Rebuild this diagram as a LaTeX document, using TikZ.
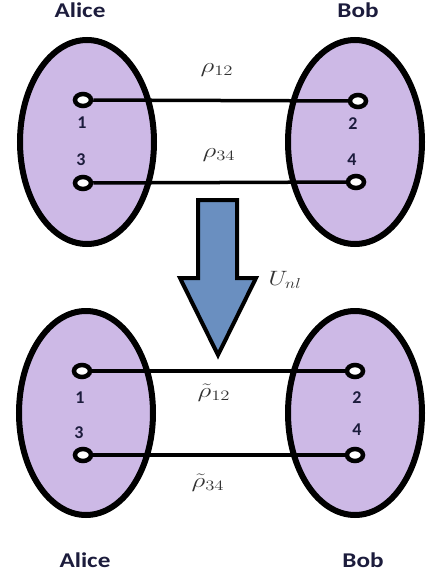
\documentclass[tikz,border=0pt]{standalone}
\usepackage{fontspec}
\newfontfamily\lblfont{Carlito}
\usetikzlibrary{shapes.geometric}
\definecolor{lav}{HTML}{CDB9E6}
\definecolor{arrblue}{HTML}{6A8FC0}
\definecolor{txtdark}{HTML}{1C1C3C}
\tikzset{
  party/.style={ellipse, draw=black, line width=6pt, fill=lav, minimum width=134pt, minimum height=204pt, inner sep=0pt},
  port/.style={ellipse, draw=black, line width=4.5pt, fill=white, minimum width=16pt, minimum height=12pt, inner sep=0pt},
  link/.style={line width=3.5pt},
  who/.style={font=\lblfont\bfseries\fontsize{21}{24}\selectfont, text=txtdark, inner sep=0pt},
  num/.style={font=\lblfont\bfseries\fontsize{18}{20}\selectfont, text=txtdark, inner sep=0pt},
  rho/.style={font=\fontsize{21}{24}\selectfont, text=black!80, inner sep=0pt}
}
\begin{document}
\begin{tikzpicture}[x=1pt,y=-1pt]
\useasboundingbox (0,0) rectangle (429,575);
% top
\node[who] (alice1) at (80,10) {\scalebox{1.2}[1]{Alice}};
\node[who] (bob1) at (358,10) {\scalebox{1.2}[1]{Bob}};
\node[party] (A1) at (87,142) {};
\node[party] (B1) at (355,142) {};
\node[port] (p1) at (83,100) {};
\node[port] (p2) at (358,101) {};
\node[port] (p3) at (83,183) {};
\node[port] (p4) at (356,182) {};
\draw[link] (p1) -- (p2);
\draw[link] (p3) -- (p4);
\node[num] (n1) at (82,123) {1};
\node[num] (n2) at (353,124) {2};
\node[num] (n3) at (81,160) {3};
\node[num] (n4) at (352,160) {4};
\node[rho] (r12) at (217,70) {\scalebox{1.3}[1]{$\rho_{12}$}};
\node[rho] (r34) at (219,155) {\scalebox{1.3}[1]{$\rho_{34}$}};
% arrow
\draw[line width=4pt, fill=arrblue, line join=miter] (198,200) -- (237,200) -- (237,278) -- (256,278) -- (218,355) -- (180,278) -- (198,278) -- cycle;
\node[rho] (U) at (285,280) {\scalebox{1.2}[1]{$U_{nl}$}};
% bottom
\node[party] (A2) at (86,413) {};
\node[party] (B2) at (355,413) {};
\node[port] (q1) at (82,371) {};
\node[port] (q2) at (355,371) {};
\node[port] (q3) at (83,455) {};
\node[port] (q4) at (355,455) {};
\draw[link] (q1) -- (q2);
\draw[link] (q3) -- (q4);
\node[num] (m1) at (80,398) {1};
\node[num] (m2) at (357,398) {2};
\node[num] (m3) at (79,433) {3};
\node[num] (m4) at (357,430) {4};
\node[rho] (s12) at (214,393) {\scalebox{1.3}[1]{$\tilde{\rho}_{12}$}};
\node[rho] (s34) at (208,483) {\scalebox{1.3}[1]{$\tilde{\rho}_{34}$}};
\node[who] (alice2) at (85,560) {\scalebox{1.2}[1]{Alice}};
\node[who] (bob2) at (363,560) {\scalebox{1.2}[1]{Bob}};
\end{tikzpicture}
\end{document}
